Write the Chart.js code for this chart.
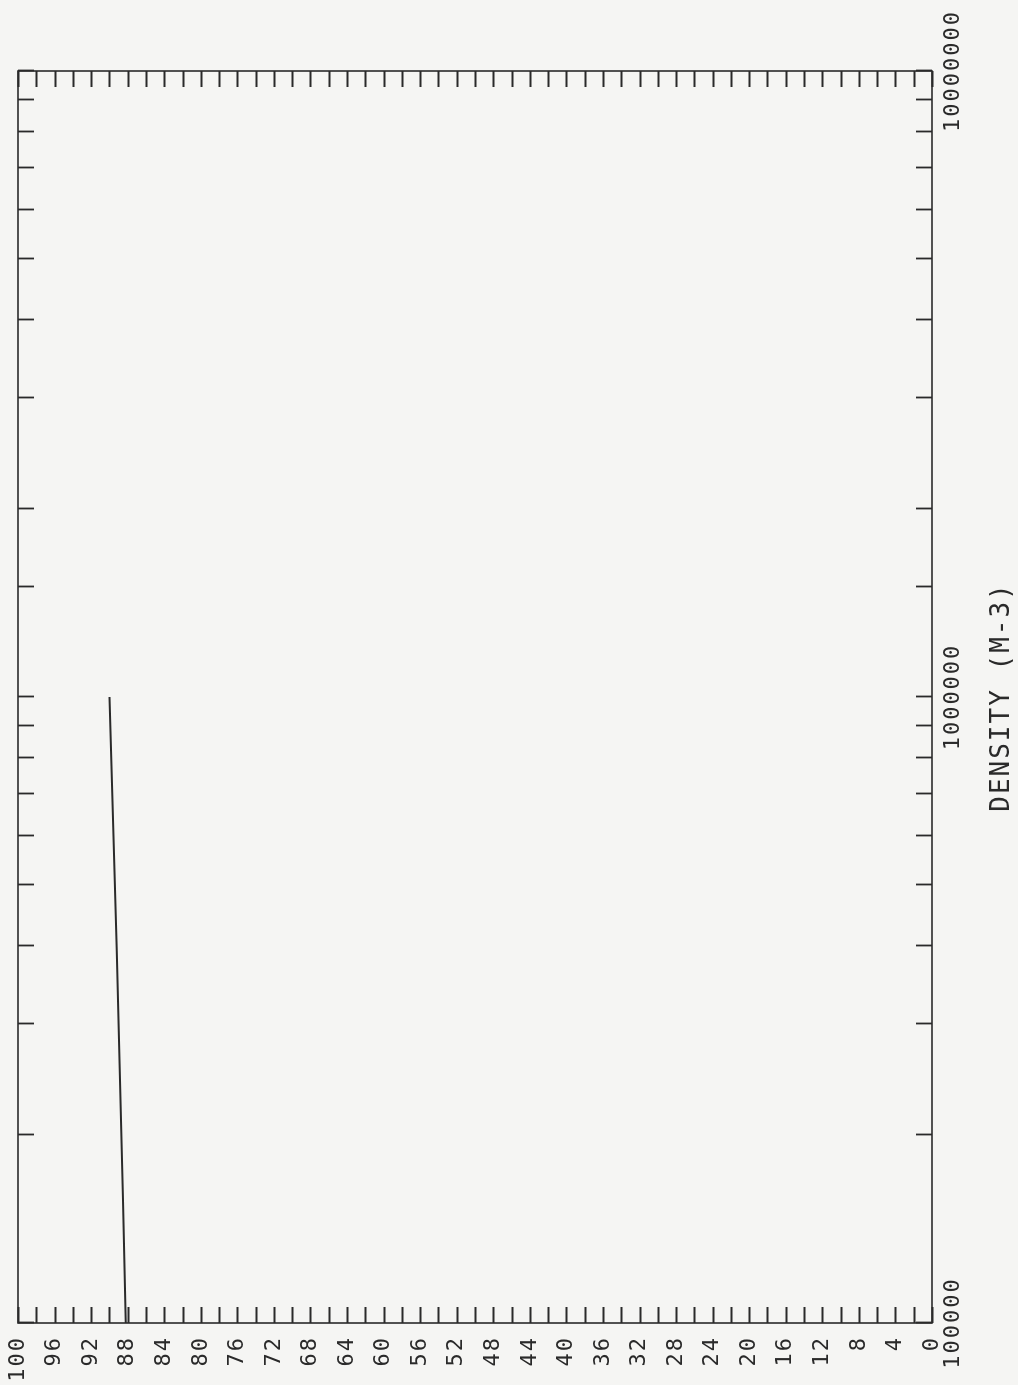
<!DOCTYPE html>
<html>
<head>
<meta charset="utf-8">
<script src="https://cdn.jsdelivr.net/npm/chart.js@4/dist/chart.umd.min.js"></script>
<style>
  html, body { margin: 0; padding: 0; background: #f5f5f3; overflow: hidden; }
  body { width: 1018px; height: 1385px; position: relative; }
  /* the plot is drawn landscape and turned a quarter turn anticlockwise */
  #wrap {
    position: absolute; left: 0; top: 0;
    width: 1385px; height: 1018px;
    transform-origin: 0 0;
    transform: translateY(1385px) rotate(-90deg);
  }
</style>
</head>
<body>
<div id="wrap"><canvas id="densityChart" width="1385" height="1018"></canvas></div>
<script>
// density profile (m-3) against altitude
const densities = [1.0e5, 1.57e5, 3.94e5, 1.0e6];
const altitudes = [88.2, 88.5, 89.2, 90.0];

const densityRange = [1e5, 1e7];
const altitudeRange = [0, 100];
const altitudeStep = 2;
const altitudeLabelEvery = 4;

const ink = '#2a2a2a';
const tickLen = 16;

// plotter style frame with ticks pointing inwards on all four sides
const innerTicks = {
  id: 'innerTicks',
  beforeDraw(chart) {
    chart.ctx.letterSpacing = '2px';
  },
  afterDatasetsDraw(chart) {
    const { ctx, chartArea: a, scales: { x, y } } = chart;
    ctx.save();
    ctx.strokeStyle = ink;
    ctx.lineWidth = 1.6;
    ctx.strokeRect(a.left, a.top, a.right - a.left, a.bottom - a.top);
    ctx.beginPath();
    x.ticks.forEach(t => {
      const px = Math.round(x.getPixelForValue(t.value)) + 0.5;
      ctx.moveTo(px, a.bottom);
      ctx.lineTo(px, a.bottom - tickLen);
      ctx.moveTo(px, a.top);
      ctx.lineTo(px, a.top + tickLen);
    });
    y.ticks.forEach(t => {
      const py = Math.round(y.getPixelForValue(t.value)) + 0.5;
      ctx.moveTo(a.left, py);
      ctx.lineTo(a.left + tickLen, py);
      ctx.moveTo(a.right, py);
      ctx.lineTo(a.right - tickLen, py);
    });
    ctx.lineWidth = 1.8;
    ctx.stroke();
    ctx.restore();
  }
};

const labelFont = { family: "'DejaVu Sans Mono', monospace", size: 22 };

// fixed axis sizes, and no extra room for labels hanging past the frame
function fixSize(prop, size) {
  return s => {
    s[prop] = size;
    s.paddingTop = s.paddingBottom = s.paddingLeft = s.paddingRight = 0;
  };
}

new Chart(document.getElementById('densityChart'), {
  type: 'line',
  data: {
    datasets: [{
      data: densities.map((d, i) => ({ x: d, y: altitudes[i] })),
      borderColor: ink,
      borderWidth: 2,
      pointRadius: 0,
      tension: 0,
      fill: false
    }]
  },
  options: {
    responsive: false,
    animation: false,
    devicePixelRatio: 1,
    layout: { padding: { top: 18, right: 71, bottom: 0, left: 0 } },
    plugins: { legend: { display: false }, tooltip: { enabled: false } },
    scales: {
      x: {
        type: 'logarithmic',
        min: densityRange[0],
        max: densityRange[1],
        grid: { display: false, drawTicks: false },
        border: { display: false },
        afterFit: fixSize('height', 86),
        ticks: {
          autoSkip: false,
          maxRotation: 0,
          padding: 8,
          color: ink,
          font: labelFont,
          callback: v => Number.isInteger(Math.log10(v)) ? String(v) : ''
        },
        title: {
          display: true,
          text: 'DENSITY (M-3)',
          color: ink,
          font: { family: "'DejaVu Sans Mono', monospace", size: 26 },
          padding: { top: 0, bottom: 0 }
        }
      },
      y: {
        min: altitudeRange[0],
        max: altitudeRange[1],
        grid: { display: false, drawTicks: false },
        border: { display: false },
        afterFit: fixSize('width', 62),
        ticks: {
          stepSize: altitudeStep,
          autoSkip: false,
          padding: 13,
          color: ink,
          font: labelFont,
          callback: v => v % altitudeLabelEvery === 0 ? String(v) : ''
        }
      }
    }
  },
  plugins: [innerTicks]
});
</script>
</body>
</html>
